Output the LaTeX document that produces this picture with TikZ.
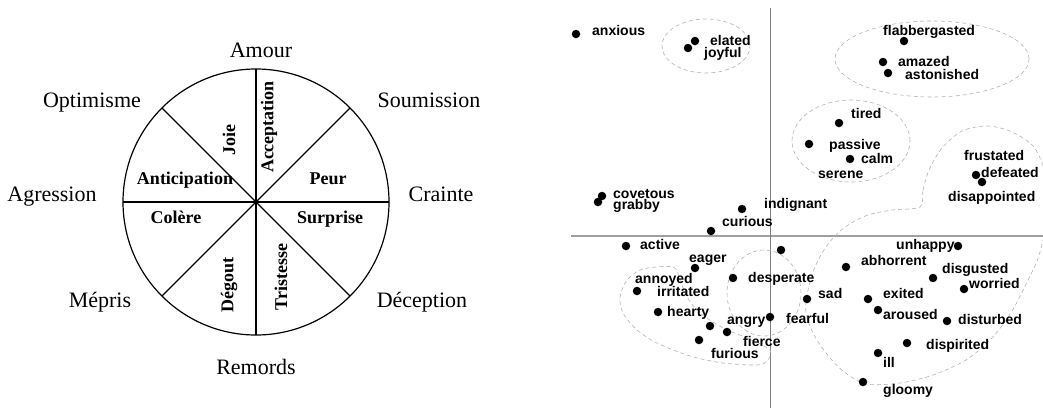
\documentclass[tikz,border=0pt]{standalone}
\usepackage{fontspec}
\setmainfont{Liberation Serif}
\newfontfamily\plotfont{Liberation Sans}

\tikzset{
  wheelline/.style={line width=1.2pt},
  emotion/.style={font=\fontsize{22}{24}\selectfont, anchor=base, inner sep=0pt},
  sector/.style={font=\bfseries\fontsize{18}{20}\selectfont, inner sep=0pt},
  dot/.style={circle, fill, inner sep=0pt, minimum size=8.5pt},
  word/.style={font=\plotfont\bfseries\fontsize{14}{16}\selectfont, anchor=base west, inner sep=0pt},
  cluster/.style={gray!60, dash pattern=on 4pt off 3pt, line width=0.6pt}
}

\begin{document}
\begin{tikzpicture}[x=1pt, y=-1pt]
    \useasboundingbox (0,0) rectangle (1043,408);

    % the wheel
    \coordinate (c) at (256,202);
    \draw [wheelline] (c) circle (133pt);
    \foreach \a in {0,45,...,315}
      \draw [wheelline] (c) -- ++(\a:133pt);

    \node [emotion] (amour) at (261,57) {Amour};
    \node [emotion] (optimisme) at (92,107) {Optimisme};
    \node [emotion] (soumission) at (429,107) {Soumission};
    \node [emotion] (agression) at (52,201) {Agression};
    \node [emotion] (crainte) at (441,201) {Crainte};
    \node [emotion] (mepris) at (100,307) {Mépris};
    \node [emotion] (deception) at (422,307) {Déception};
    \node [emotion] (remords) at (256,374) {Remords};

    \node [sector, rotate=90] (joie) at (229,140) {Joie};
    \node [sector, rotate=90] (acceptation) at (269,127) {Acceptation};
    \node [sector, anchor=base] (anticipation) at (185,184) {Anticipation};
    \node [sector, anchor=base] (peur) at (328,184) {Peur};
    \node [sector, anchor=base] (colere) at (176,223) {Colère};
    \node [sector, anchor=base] (surprise) at (330,223) {Surprise};
    \node [sector, rotate=90] (degout) at (229,285) {Dégout};
    \node [sector, rotate=90] (tristesse) at (281,277) {Tristesse};

    % the plot
    \coordinate (xl) at (571,236);
    \coordinate (xr) at (1043,236);
    \coordinate (yt) at (770,8);
    \coordinate (yb) at (770,408);
    \draw [gray!75, line width=1.6pt] (xl) -- (xr);
    \draw [gray, line width=0.7pt] (yt) -- (yb);

    \begin{scope}
      \clip (560,0) rectangle (1043,408);
      \draw [cluster] (706,46) ellipse (44pt and 27pt);
      \draw [cluster] (932,59) ellipse (97pt and 38pt);
      \draw [cluster] (851,141) ellipse (59pt and 41pt);
      \draw [cluster] (764,293) ellipse (37pt and 43pt);
      \draw [cluster] plot [smooth cycle] coordinates {
        (920,207) (923,190) (929,170) (942,148) (962,131) (987,126)
        (1012,132) (1036,150) (1050,195) (1040,252) (1028,280) (1012,311)
        (992,338) (966,360) (933,375) (900,383) (866,384) (843,371)
        (826,353) (813,333) (806,313) (807,295) (813,272) (822,253)
        (834,237) (848,225) (868,215) (892,210)};
      \draw [cluster] plot [smooth cycle] coordinates {
        (673,267) (643,269) (627,280) (620,297) (623,313) (637,330)
        (657,343) (690,356) (723,363) (757,365) (767,361) (770,350)
        (747,338) (723,328) (700,313) (687,297) (680,280)};
    \end{scope}

    \foreach \n/\x/\y in {anxious/576/34, elated/695/41, joyful/688/48,
        covetous/602/196, grabby/598/202, indignant/742/209, curious/711/231,
        flabbergasted/904/41, amazed/883/62, astonished/888/73,
        tired/839/123, passive/809/144, calm/850/159,
        defeated/976/175, disappointed/982/182,
        active/626/246, eager/695/268, annoyed/637/291, hearty/658/312,
        desperate/733/278, top/781/250, fearful/770/317, sad/807/299,
        angry/710/326, fierce/727/332, furious/699/340,
        unhappy/958/246, abhorrent/846/267, disgusted/933/278, worried/964/289,
        exited/868/299, aroused/878/310, disturbed/947/321,
        dispirited/907/343, ill/878/353, gloomy/863/382}
      \node [dot] (d-\n) at (\x,\y) {};

    \foreach \n/\x/\y in {anxious/592/35, elated/710/45, joyful/704/57,
        covetous/613/198, grabby/613/209, indignant/764/208, curious/722/226,
        flabbergasted/883/35, amazed/898/66, astonished/905/79,
        tired/851/118, passive/829/149, calm/861/163, serene/818/178,
        frustated/964/160, defeated/981/177, disappointed/948/201,
        active/640/249, eager/689/262, annoyed/635/283, irritated/657/296,
        hearty/667/316, desperate/748/282, angry/727/324, fearful/786/323,
        sad/818/298, fierce/743/346, furious/711/358,
        unhappy/896/249, abhorrent/861/265, disgusted/942/273, worried/969/288,
        exited/883/298, aroused/883/319, disturbed/958/324,
        dispirited/926/349, ill/883/367, gloomy/883/394}
      \node [word] (w-\n) at (\x,\y) {\n};
  \end{tikzpicture}
\end{document}
